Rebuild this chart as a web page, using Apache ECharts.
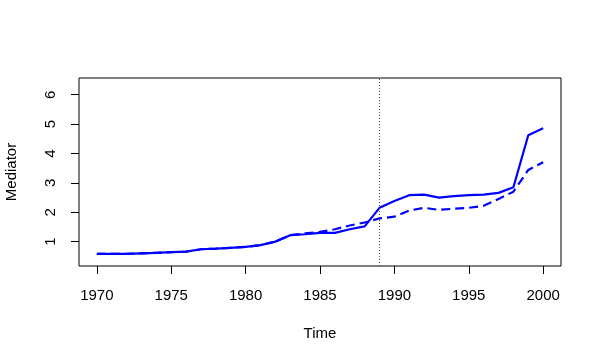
<!DOCTYPE html>
<html>
<head>
<meta charset="utf-8">
<script src="https://cdn.jsdelivr.net/npm/echarts@6/dist/echarts.min.js"></script>
<style>
html, body { margin: 0; padding: 0; background: #fff; }
#container { width: 602px; height: 364px; }
</style>
</head>
<body>
<div id="container"></div>
<script>
var years = [1970, 1971, 1972, 1973, 1974, 1975, 1976, 1977, 1978, 1979,
	1980, 1981, 1982, 1983, 1984, 1985, 1986, 1987, 1988, 1989,
	1990, 1991, 1992, 1993, 1994, 1995, 1996, 1997, 1998, 1999, 2000];
// solid line
var mediatorA = [0.58, 0.58, 0.58, 0.60, 0.62, 0.64, 0.66, 0.74, 0.76, 0.79,
	0.82, 0.88, 1.00, 1.22, 1.25, 1.30, 1.30, 1.42, 1.52, 2.15,
	2.38, 2.58, 2.60, 2.50, 2.55, 2.58, 2.60, 2.66, 2.85, 4.62, 4.86];
// dashed line
var mediatorB = [0.58, 0.58, 0.58, 0.60, 0.62, 0.64, 0.66, 0.74, 0.76, 0.79,
	0.82, 0.88, 1.00, 1.22, 1.28, 1.33, 1.42, 1.55, 1.65, 1.79,
	1.85, 2.06, 2.15, 2.08, 2.12, 2.15, 2.22, 2.45, 2.70, 3.44, 3.70];
var xTicks = [1970, 1975, 1980, 1985, 1990, 1995, 2000];
var yTicks = [1, 2, 3, 4, 5, 6];
var breakYear = 1989;

var pairs = function(xs, ys) {
	return xs.map(function(x, i) { return [x, ys[i]]; });
};

var chart = echarts.init(document.getElementById('container'));
var font = 'Liberation Sans, Arial, Helvetica, sans-serif';

chart.setOption({
	animation: false,
	backgroundColor: '#fff',
	grid: {
		left: 79, right: 41, top: 78, bottom: 98,
		outerBoundsMode: 'none',
		containLabel: false,
		show: true, borderColor: '#000', borderWidth: 1, backgroundColor: 'transparent'
	},
	xAxis: {
		type: 'value',
		min: 1968.8,
		max: 2001.2,
		name: 'Time',
		nameLocation: 'middle',
		nameGap: 60,
		nameTextStyle: { fontFamily: font, fontSize: 15, color: '#000' },
		splitLine: { show: false },
		axisLine: { show: false },
		axisTick: {
			show: true, inside: false, length: 8,
			customValues: xTicks,
			lineStyle: { color: '#000', width: 1 }
		},
		axisLabel: {
			customValues: xTicks,
			formatter: function(v) { return String(v); },
			margin: 22,
			fontFamily: font, fontSize: 15, color: '#000'
		}
	},
	yAxis: {
		type: 'value',
		min: 0.17,
		max: 6.57,
		name: 'Mediator',
		nameLocation: 'middle',
		nameGap: 60,
		nameRotate: 90,
		nameTextStyle: { fontFamily: font, fontSize: 15, color: '#000' },
		splitLine: { show: false },
		axisLine: { show: false },
		axisTick: {
			show: true, inside: false, length: 8,
			customValues: yTicks,
			lineStyle: { color: '#000', width: 1 }
		},
		axisLabel: {
			customValues: yTicks,
			rotate: 90,
			margin: 21,
			align: 'center',
			verticalAlign: 'bottom',
			fontFamily: font, fontSize: 15, color: '#000'
		}
	},
	series: [{
		type: 'line',
		data: pairs(years, mediatorA),
		showSymbol: false,
		lineStyle: { color: '#0000ff', width: 2.2, type: 'solid' },
		markLine: {
			silent: true,
			symbol: 'none',
			label: { show: false },
			lineStyle: { color: '#444', width: 1, type: [1, 2] },
			data: [{ xAxis: breakYear }]
		}
	}, {
		type: 'line',
		data: pairs(years, mediatorB),
		showSymbol: false,
		lineStyle: { color: '#0000ff', width: 2.2, type: [9, 5] }
	}]
});
</script>
</body>
</html>
